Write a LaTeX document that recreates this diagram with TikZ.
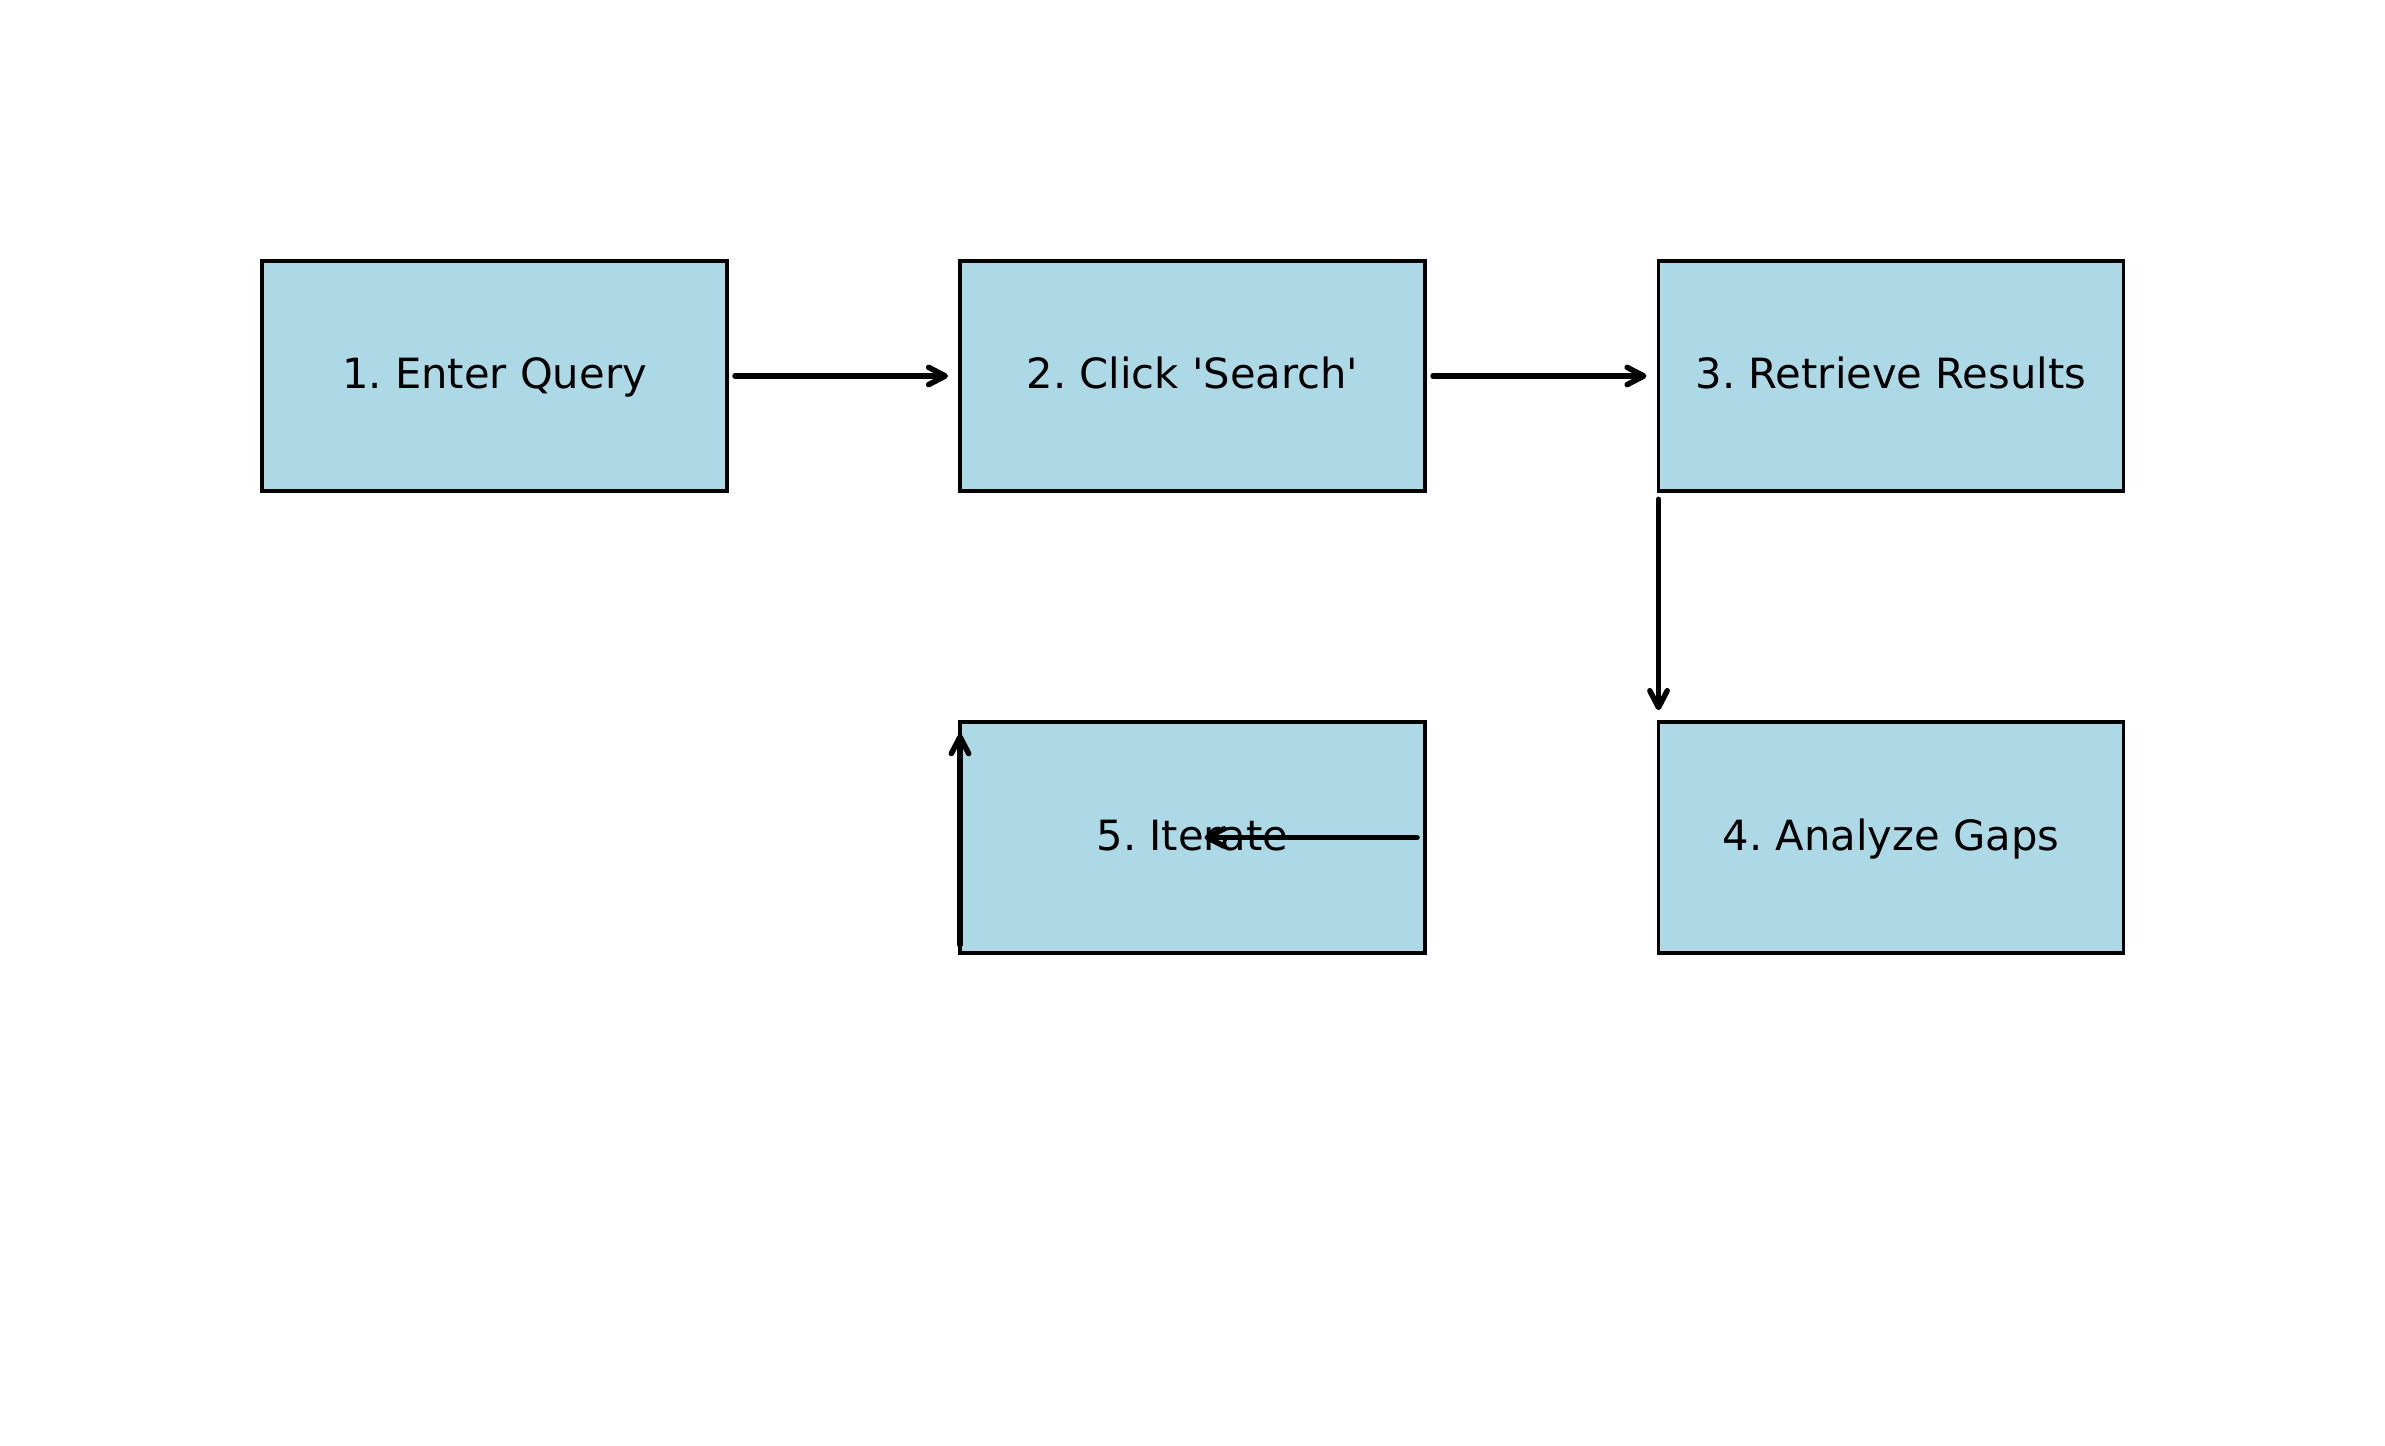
\documentclass[tikz,border=0pt]{standalone}
\usepackage{fontspec}
\setmainfont{DejaVu Sans}
\usetikzlibrary{arrows.meta}
\definecolor{boxblue}{HTML}{ADD8E6}
\frenchspacing
\begin{document}
\begin{tikzpicture}[x=0.3pt,y=-0.3pt,
  stepbox/.style={draw=black, fill=boxblue, line width=1.15pt,
    minimum width=139.5pt, minimum height=69.2pt, inner sep=0pt, outer sep=0pt,
    text height=1.0em, text depth=0.22em,
    font=\fontsize{12.5}{15}\selectfont},
  flow/.style={line width=1.65pt, line cap=round,
    -{Straight Barb[length=5pt,width=5.2pt,round]},
    shorten <=2.4pt, shorten >=3.6pt}]
\useasboundingbox (0,0) rectangle (2385,1446);
\node[stepbox] (s1) at (494.5,376) {1. Enter Query};
\node[stepbox] (s2) at (1192.5,376) {2. Click \textquotesingle Search\textquotesingle};
\node[stepbox] (s3) at (1891,376) {3. Retrieve Results};
\node[stepbox] (s4) at (1891,837.5) {4. Analyze Gaps};
\node[stepbox] (s5) at (1192.5,837.5) {5. Iterate};
\draw[flow] (s1.east) -- (s2.west);
\draw[flow] (s2.east) -- (s3.west);
\draw[flow] (s3.south west) -- (s4.north west);
\draw[flow] (s5.east) -- (s5.center);
\draw[flow] (s5.south west) -- (s5.north west);
\end{tikzpicture}
\end{document}
